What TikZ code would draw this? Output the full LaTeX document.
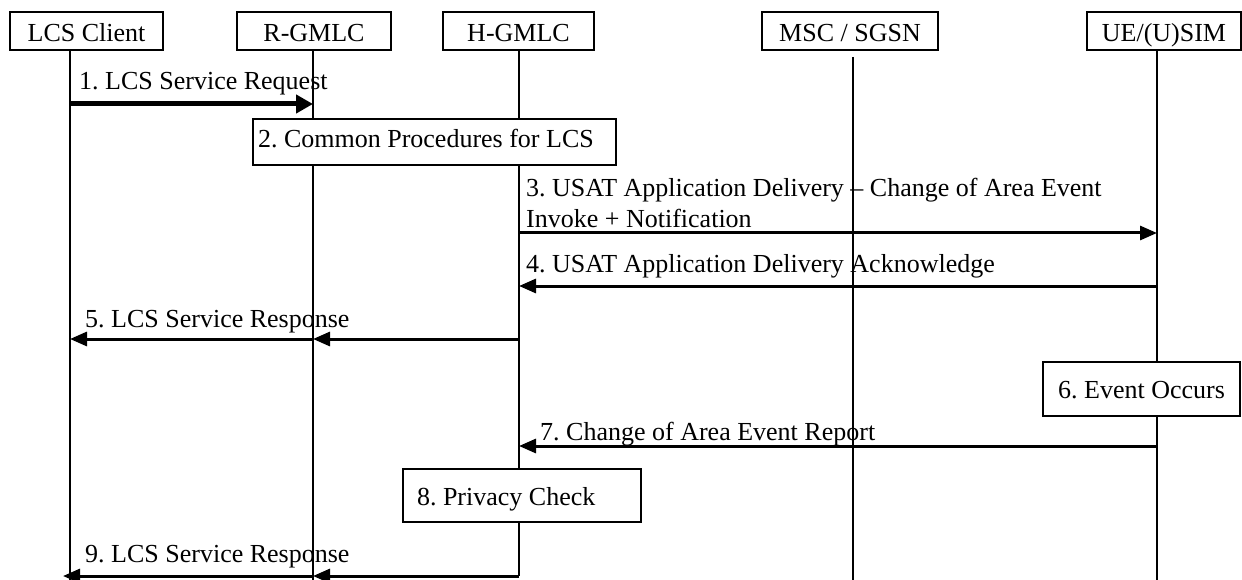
\documentclass[tikz,border=0pt]{standalone}
\usepackage{fontspec}
\setmainfont{Liberation Serif}
\usetikzlibrary{arrows.meta}
\newcommand\dfont{\fontsize{26}{30}\selectfont\frenchspacing}
\newcommand\lefttext[2]{\hbox to #1{#2\hfil}}
\begin{document}
\frenchspacing
\begin{tikzpicture}[x=1pt,y=-1pt,
  actor/.style={draw, line width=1.8pt, fill=white, inner sep=0pt, minimum height=38pt, text height=22pt, text depth=0pt, font=\dfont},
  stepbox/.style={draw, line width=1.8pt, fill=white, inner sep=0pt, font=\dfont},
  life/.style={line width=1.8pt},
  msg/.style={line width=3pt, -{Triangle[length=17pt,width=14pt]}},
  msgA/.style={line width=5pt, -{Triangle[length=17pt,width=18pt]}},
  lbl/.style={inner sep=0pt, anchor=base west, font=\dfont}]
\useasboundingbox (0,0) rectangle (1242,580);
% actors
\node[actor, minimum width=153pt] (lcs) at (86.5,31) {LCS Client};
\node[actor, minimum width=154pt] (rg) at (314,31) {R-GMLC};
\node[actor, minimum width=151pt] (hg) at (518.5,31) {H-GMLC};
\node[actor, minimum width=176pt] (msc) at (850,31) {MSC / SGSN};
\node[actor, minimum width=154pt] (ue) at (1164,31) {UE/(U)SIM};
% lifeline x positions and message rows
\coordinate (xL) at (70,0);
\coordinate (xR) at (313,0);
\coordinate (xH) at (519,0);
\coordinate (xM) at (853,0);
\coordinate (xU) at (1157,0);
\coordinate (mtop) at (853,57);
\coordinate (bot) at (0,580);
\coordinate (r1) at (0,104);
\coordinate (r3) at (0,233);
\coordinate (r4) at (0,286);
\coordinate (r5) at (0,339);
\coordinate (r7) at (0,446);
\coordinate (r9) at (0,576);
% lifelines
\draw[life] (lcs.south -| xL) -- (xL |- bot);
\draw[life] (rg.south -| xR) -- (xR |- bot);
\draw[life] (hg.south -| xH) -- (xH |- r9);
\draw[life] (mtop) -- (xM |- bot);
\draw[life] (ue.south -| xU) -- (xU |- bot);
% step boxes
\node[stepbox, minimum height=46pt, inner xsep=5pt, text height=18pt, text depth=6pt] (s2) at (434.5,142) {\lefttext{353pt}{2. Common Procedures for LCS}};
\node[stepbox, minimum width=197pt, minimum height=54pt, text height=20pt, text depth=2pt] (s6) at (1141.5,389) {6. Event Occurs};
\node[stepbox, minimum height=53pt, inner xsep=14pt, text height=21pt, text depth=2pt] (s8) at (522,495.5) {\lefttext{210pt}{8. Privacy Check}};
% messages
\draw[msgA] (xL |- r1) -- (xR |- r1);
\draw[msg] (xH |- r3) -- (xU |- r3);
\draw[msg] (xU |- r4) -- (xH |- r4);
\draw[msg] (xH |- r5) -- (xR |- r5);
\draw[msg] (xR |- r5) -- (xL |- r5);
\draw[msg] (xU |- r7) -- (xH |- r7);
\draw[msg] (xH |- r9) -- (xR |- r9);
\draw[msg, shorten >=-7pt] (xR |- r9) -- (xL |- r9);
% labels
\node[lbl] (l1) at (79,90) {1. LCS Service Request};
\node[lbl] (l3a) at (526,197) {3. USAT Application Delivery – Change of Area Event};
\node[lbl] (l3b) at (526,227) {Invoke + Notification};
\node[lbl] (l4) at (526,272) {4. USAT Application Delivery Acknowledge};
\node[lbl] (l5) at (85,327) {5. LCS Service Response};
\node[lbl] (l7) at (540,440) {7. Change of Area Event Report};
\node[lbl] (l9) at (85,562) {9. LCS Service Response};
\end{tikzpicture}
\end{document}
